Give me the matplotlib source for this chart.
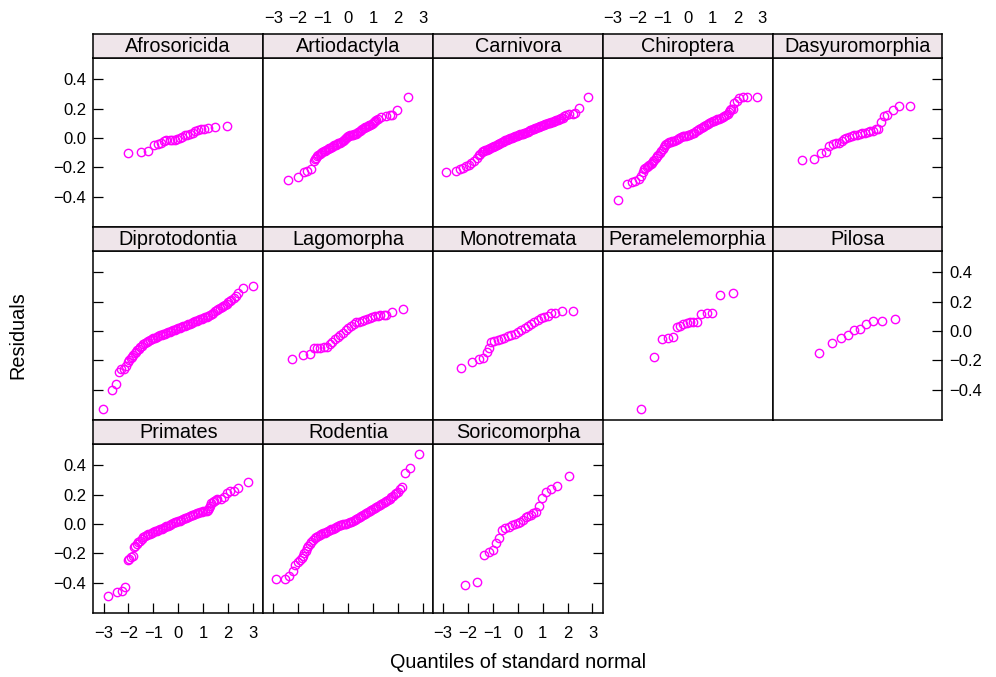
import matplotlib.pyplot as plt

plt.rcParams['font.family'] = ['Liberation Sans', 'DejaVu Sans']

# theoretical normal quantiles (x) and sorted residuals (y), one pair per order
afro_x = [-2.01, -1.51, -1.20, -0.98, -0.83, -0.71, -0.58, -0.47, -0.33, -0.23, -0.12, -0.03,
          0.07, 0.17, 0.27, 0.36, 0.47, 0.58, 0.68, 0.79, 0.90, 1.02, 1.19, 1.49, 1.98]
afro_y = [-0.100, -0.098, -0.086, -0.045, -0.041, -0.032, -0.018, -0.014, -0.014, -0.014, -0.011, -0.007,
          0.000, 0.009, 0.018, 0.023, 0.025, 0.032, 0.045, 0.055, 0.059, 0.064, 0.066, 0.073, 0.080]

artio_x = [-2.42, -1.99, -1.78, -1.65, -1.50, -1.38, -1.34, -1.29, -1.24, -1.19, -1.14, -1.09, -1.04,
           -0.98, -0.92, -0.87, -0.82, -0.76, -0.71, -0.65, -0.60, -0.55, -0.50, -0.44, -0.39, -0.33,
           -0.28, -0.22, -0.17, -0.12, -0.07, -0.03, 0.01, 0.05, 0.09, 0.15, 0.20, 0.25, 0.31, 0.36,
           0.41, 0.47, 0.52, 0.57, 0.63, 0.68, 0.74, 0.79, 0.84, 0.90, 0.95, 1.00, 1.06, 1.10, 1.14,
           1.20, 1.34, 1.51, 1.67, 1.78, 1.97, 2.41]
artio_y = [-0.284, -0.266, -0.232, -0.223, -0.209, -0.159, -0.145, -0.135, -0.125, -0.117, -0.109, -0.103,
           -0.098, -0.092, -0.086, -0.080, -0.075, -0.070, -0.066, -0.060, -0.055, -0.050, -0.045, -0.040,
           -0.036, -0.031, -0.027, -0.021, -0.016, -0.008, 0.000, 0.006, 0.011, 0.015, 0.018, 0.020, 0.023,
           0.027, 0.030, 0.035, 0.041, 0.048, 0.055, 0.061, 0.068, 0.072, 0.077, 0.081, 0.086, 0.090,
           0.095, 0.102, 0.109, 0.114, 0.120, 0.132, 0.143, 0.150, 0.155, 0.159, 0.193, 0.280]

carn_x = [-2.88, -2.50, -2.32, -2.21, -2.08, -1.97, -1.87, -1.76, -1.65, -1.54,
          -1.5, -1.45, -1.4, -1.35, -1.3, -1.25, -1.2, -1.15, -1.1, -1.05, -1.0, -0.95, -0.9, -0.85,
          -0.8, -0.75, -0.7, -0.65, -0.6, -0.55, -0.5, -0.45, -0.4, -0.35, -0.3, -0.25, -0.2, -0.15,
          -0.1, -0.05, 0.0, 0.05, 0.1, 0.15, 0.2, 0.25, 0.3, 0.35, 0.4, 0.45, 0.5, 0.55, 0.6, 0.65,
          0.7, 0.75, 0.8, 0.85, 0.9, 0.95, 1.0, 1.05, 1.1, 1.15, 1.2, 1.25, 1.3, 1.35, 1.4, 1.45,
          1.5, 1.55, 1.6, 1.65, 1.7, 1.75, 1.8,
          1.87, 1.94, 2.07, 2.21, 2.28, 2.45, 2.82]
carn_y = [-0.234, -0.225, -0.209, -0.202, -0.193, -0.182, -0.168, -0.155, -0.136, -0.114,
          -0.107, -0.099, -0.092, -0.088, -0.084, -0.080, -0.077, -0.073, -0.069, -0.065, -0.061, -0.056,
          -0.052, -0.047, -0.043, -0.038, -0.034, -0.029, -0.025, -0.021, -0.017, -0.013, -0.009, -0.005,
          -0.002, 0.002, 0.005, 0.008, 0.011, 0.015, 0.018, 0.021, 0.024, 0.027, 0.030, 0.033, 0.036,
          0.040, 0.043, 0.047, 0.051, 0.055, 0.059, 0.063, 0.067, 0.071, 0.075, 0.077, 0.080, 0.083,
          0.086, 0.090, 0.093, 0.097, 0.100, 0.102, 0.105, 0.108, 0.111, 0.115, 0.118, 0.122, 0.125,
          0.127, 0.130, 0.133, 0.136,
          0.150, 0.159, 0.164, 0.164, 0.173, 0.207, 0.277]

chiro_x = [-2.81, -2.44, -2.25, -2.10, -1.97, -1.87, -1.81, -1.74, -1.70, -1.65, -1.60, -1.54, -1.49,
           -1.43, -1.38, -1.33, -1.28, -1.22, -1.17, -1.11, -1.06, -1.00, -0.95, -0.90, -0.85, -0.79,
           -0.73, -0.67, -0.61, -0.54, -0.47, -0.40, -0.34, -0.27, -0.20, -0.13, -0.07, 0.00, 0.07,
           0.13, 0.20, 0.27, 0.34, 0.40, 0.47, 0.54, 0.61, 0.67, 0.74, 0.80, 0.87, 0.94, 1.01, 1.07,
           1.14, 1.20, 1.27, 1.34, 1.41, 1.47, 1.54, 1.61, 1.66, 1.71, 1.76, 1.81, 1.87,
           1.97, 2.07, 2.21, 2.37, 2.77]
chiro_y = [-0.423, -0.314, -0.300, -0.291, -0.282, -0.259, -0.232, -0.214, -0.206, -0.198, -0.190, -0.182,
           -0.175, -0.168, -0.160, -0.152, -0.139, -0.125, -0.113, -0.100, -0.086, -0.073, -0.061, -0.050,
           -0.042, -0.034, -0.030, -0.027, -0.022, -0.018, -0.011, -0.005, 0.001, 0.007, 0.011, 0.014,
           0.016, 0.018, 0.022, 0.027, 0.031, 0.036, 0.045, 0.055, 0.061, 0.068, 0.075, 0.082, 0.090,
           0.098, 0.103, 0.109, 0.113, 0.118, 0.122, 0.127, 0.131, 0.136, 0.143, 0.150, 0.158, 0.166,
           0.177, 0.189, 0.195, 0.200, 0.239,
           0.250, 0.273, 0.277, 0.277, 0.280]

dasy_x = [-2.21, -1.73, -1.47, -1.27, -1.14, -1.00, -0.87, -0.74, -0.63, -0.54, -0.44, -0.33,
          -0.23, -0.12, -0.01, 0.09, 0.20, 0.31, 0.41, 0.52, 0.63, 0.74, 0.84, 0.95, 1.07,
          1.20, 1.41, 1.67, 2.13]
dasy_y = [-0.148, -0.141, -0.100, -0.095, -0.055, -0.039, -0.036, -0.032, -0.018, -0.005, 0.002, 0.009,
          0.014, 0.018, 0.023, 0.027, 0.032, 0.036, 0.041, 0.045, 0.050, 0.059, 0.059, 0.109, 0.148,
          0.159, 0.193, 0.216, 0.220]

dipro_x = [-3.01, -2.65, -2.48, -2.37, -2.28, -2.18, -2.10, -2.01, -1.96, -1.91, -1.86, -1.81, -1.75,
           -1.70, -1.65, -1.59, -1.53, -1.47, -1.40, -1.34, -1.27, -1.20, -1.14, -1.07, -1.00, -0.94,
           -0.87, -0.80, -0.74, -0.67, -0.61, -0.54, -0.47, -0.40, -0.34, -0.27, -0.20, -0.13, -0.07,
           0.00, 0.07, 0.13, 0.20, 0.27, 0.34, 0.40, 0.47, 0.54, 0.61, 0.67, 0.74, 0.80, 0.87, 0.94,
           1.01, 1.07, 1.14, 1.20, 1.27, 1.34, 1.41, 1.47, 1.54, 1.61, 1.67, 1.74, 1.81, 1.87, 1.94,
           2.01, 2.07, 2.14, 2.24, 2.32, 2.41, 2.61, 2.99]
dipro_y = [-0.534, -0.402, -0.359, -0.277, -0.261, -0.259, -0.236, -0.209, -0.197, -0.186, -0.175, -0.164,
           -0.152, -0.141, -0.130, -0.120, -0.110, -0.100, -0.091, -0.082, -0.074, -0.066, -0.060, -0.055,
           -0.050, -0.045, -0.040, -0.036, -0.031, -0.027, -0.022, -0.018, -0.013, -0.009, -0.005, 0.000,
           0.005, 0.009, 0.014, 0.018, 0.023, 0.027, 0.032, 0.036, 0.041, 0.045, 0.050, 0.055, 0.061,
           0.066, 0.071, 0.075, 0.080, 0.084, 0.089, 0.093, 0.098, 0.102, 0.108, 0.114, 0.124, 0.134,
           0.142, 0.150, 0.157, 0.164, 0.170, 0.177, 0.186,
           0.195, 0.203, 0.211, 0.227, 0.241, 0.257, 0.295, 0.305]

lago_x = [-2.26, -1.81, -1.54, -1.38, -1.24, -1.11, -0.98, -0.84, -0.74, -0.63, -0.52, -0.41,
          -0.31, -0.20, -0.09, 0.01, 0.12, 0.23, 0.33, 0.44, 0.55, 0.66, 0.76, 0.87, 0.98,
          1.08, 1.19, 1.30, 1.43, 1.54, 1.78, 2.21]
lago_y = [-0.193, -0.164, -0.157, -0.118, -0.114, -0.114, -0.109, -0.107, -0.086, -0.073, -0.057, -0.039,
          -0.027, -0.011, 0.005, 0.023, 0.036, 0.048, 0.059, 0.064, 0.068, 0.073, 0.082, 0.086, 0.093,
          0.100, 0.105, 0.109, 0.111, 0.109, 0.127, 0.150]

mono_x = [-2.28, -1.83, -1.57, -1.38, -1.24, -1.14, -1.06, -0.94, -0.80, -0.67, -0.54, -0.40,
          -0.27, -0.13, 0.00, 0.13, 0.27, 0.40, 0.54, 0.67, 0.80, 0.94, 1.07, 1.20, 1.34,
          1.51, 1.78, 2.21]
mono_y = [-0.255, -0.209, -0.191, -0.186, -0.141, -0.118, -0.077, -0.068, -0.061, -0.055, -0.045, -0.036,
          -0.027, -0.018, -0.005, 0.009, 0.023, 0.036, 0.050, 0.064, 0.075, 0.086, 0.098, 0.105, 0.123,
          0.120, 0.136, 0.136]

peram_x = [-1.89, -1.34, -1.04, -0.78, -0.58, -0.44, -0.31, -0.17, -0.04, 0.09, 0.23, 0.36,
           0.55, 0.76, 1.00, 1.30, 1.83]
peram_y = [-0.530, -0.177, -0.057, -0.045, -0.041, 0.025, 0.034, 0.045, 0.057, 0.064, 0.064, 0.064,
           0.118, 0.123, 0.123, 0.248, 0.261]

pilosa_x = [-1.55, -1.02, -0.67, -0.39, -0.13, 0.12, 0.36, 0.64, 0.99, 1.53]
pilosa_y = [-0.152, -0.084, -0.045, -0.027, 0.005, 0.014, 0.045, 0.070, 0.070, 0.080]

prim_x = [-2.81, -2.44, -2.25, -2.12, -2.01, -1.96, -1.91, -1.83, -1.78, -1.72, -1.67, -1.60, -1.54,
          -1.47, -1.41, -1.34, -1.27, -1.20, -1.14, -1.07, -1.00, -0.94, -0.87, -0.80, -0.74, -0.67,
          -0.60, -0.54, -0.47, -0.40, -0.33, -0.27, -0.20, -0.13, -0.07, 0.00, 0.07, 0.13, 0.20,
          0.27, 0.33, 0.40, 0.47, 0.54, 0.60, 0.67, 0.74, 0.80, 0.87, 0.94, 1.00, 1.07, 1.14, 1.19,
          1.24, 1.29, 1.33, 1.38, 1.43, 1.50, 1.57, 1.70, 1.83, 1.97, 2.07, 2.24, 2.42, 2.81]
prim_y = [-0.489, -0.461, -0.455, -0.427, -0.245, -0.236, -0.227, -0.218, -0.159, -0.147, -0.136, -0.125,
          -0.114, -0.102, -0.091, -0.083, -0.075, -0.070, -0.066, -0.061, -0.057, -0.051, -0.045, -0.040,
          -0.036, -0.031, -0.027, -0.021, -0.016, -0.011, -0.007, -0.001, 0.005, 0.010, 0.014, 0.019,
          0.023, 0.028, 0.034, 0.038, 0.043, 0.049, 0.055, 0.060, 0.064, 0.070, 0.075, 0.078, 0.082,
          0.084, 0.086, 0.088, 0.091, 0.098, 0.107, 0.125, 0.141, 0.150, 0.159, 0.163, 0.168, 0.170,
          0.186, 0.214, 0.223, 0.223, 0.245, 0.284]

rod_x = [-2.90, -2.54, -2.37, -2.21, -2.12, -2.01, -1.91, -1.86, -1.81, -1.75, -1.70, -1.65, -1.59,
         -1.53, -1.47, -1.40, -1.34, -1.27, -1.20, -1.14, -1.07, -1.00, -0.94, -0.87, -0.80, -0.74,
         -0.67, -0.61, -0.54, -0.47, -0.40, -0.34, -0.27, -0.20, -0.13, -0.07, 0.00, 0.07, 0.13,
         0.20, 0.27, 0.34, 0.40, 0.47, 0.54, 0.61, 0.67, 0.74, 0.80, 0.87, 0.94, 1.01, 1.07, 1.14,
         1.20, 1.27, 1.34, 1.41, 1.47, 1.54, 1.61, 1.67, 1.74, 1.81, 1.87, 1.94, 2.01, 2.10, 2.18,
         2.30, 2.49, 2.86]
rod_y = [-0.377, -0.377, -0.355, -0.320, -0.280, -0.259, -0.245, -0.232, -0.218, -0.201, -0.184, -0.167,
         -0.150, -0.135, -0.120, -0.109, -0.098, -0.090, -0.082, -0.076, -0.070, -0.064, -0.059, -0.053,
         -0.048, -0.042, -0.036, -0.031, -0.025, -0.020, -0.014, -0.010, -0.007, -0.003, 0.000, 0.003,
         0.007, 0.011, 0.016, 0.021, 0.027, 0.034, 0.041, 0.048, 0.055, 0.061, 0.068, 0.075, 0.082,
         0.088, 0.095, 0.103, 0.111, 0.118, 0.125, 0.132, 0.139, 0.145, 0.152, 0.158, 0.164, 0.173,
         0.182, 0.192, 0.202, 0.211, 0.220, 0.235, 0.250,
         0.345, 0.382, 0.475]

sori_x = [-2.12, -1.63, -1.37, -1.14, -0.98, -0.87, -0.76, -0.63, -0.50, -0.36, -0.23, -0.12,
          -0.01, 0.09, 0.20, 0.31, 0.41, 0.52, 0.63, 0.74, 0.84, 0.98, 1.14, 1.34, 1.59, 2.07]
sori_y = [-0.414, -0.398, -0.209, -0.191, -0.177, -0.127, -0.095, -0.041, -0.027, -0.018, -0.009, -0.002,
          0.005, 0.014, 0.027, 0.045, 0.055, 0.064, 0.073, 0.082, 0.123, 0.175, 0.220, 0.241, 0.259, 0.330]

orders = ["Afrosoricida", "Artiodactyla", "Carnivora", "Chiroptera", "Dasyuromorphia",
          "Diprotodontia", "Lagomorpha", "Monotremata", "Peramelemorphia", "Pilosa",
          "Primates", "Rodentia", "Soricomorpha"]
xs_all = [afro_x, artio_x, carn_x, chiro_x, dasy_x, dipro_x, lago_x, mono_x,
          peram_x, pilosa_x, prim_x, rod_x, sori_x]
ys_all = [afro_y, artio_y, carn_y, chiro_y, dasy_y, dipro_y, lago_y, mono_y,
          peram_y, pilosa_y, prim_y, rod_y, sori_y]

x_ticks = [-3, -2, -1, 0, 1, 2, 3]
y_ticks = [-0.4, -0.2, 0.0, 0.2, 0.4]
x_labels = [str(v).replace('-', '\u2212') for v in x_ticks]
y_labels = [f"{v:.1f}".replace('-', '\u2212') for v in y_ticks]

W, H = 996, 677
fig = plt.figure(figsize=(W / 100, H / 100), dpi=100)


def box(x0, y0, w, h):
    # pixel box (top-left origin) -> figure fraction
    return [x0 / W, 1 - (y0 + h) / H, w / W, h / H]


left0, pw = 93.3, 169.8
top0, sh, ph = 34, 24, 169
row_step = sh + ph
ncol = 5
tick_fs = 12
strip_col = '#efe5ea'
pt_col = '#ff00ff'

for i, name in enumerate(orders):
    r, c = divmod(i, ncol)
    x0 = left0 + c * pw
    s_top = top0 + r * row_step
    last_in_row = c == ncol - 1 or i == len(orders) - 1
    bottom_row = r == 2

    ax = fig.add_axes(box(x0, s_top + sh, pw, ph))
    ax.plot(xs_all[i], ys_all[i], 'o', mfc='none', mec=pt_col, ms=6.0, mew=1.0)
    ax.set_xlim(-3.41, 3.41)
    ax.set_ylim(-0.607, 0.545)
    ax.set_xticks(x_ticks)
    ax.set_xticklabels(x_labels)
    ax.set_yticks(y_ticks)
    ax.set_yticklabels(y_labels)
    ax.tick_params(direction='in', length=7, width=0.9, labelsize=tick_fs,
                   left=c == 0, right=last_in_row, top=False, bottom=bottom_row,
                   labelleft=c == 0 and r != 1, labelright=last_in_row and r == 1,
                   labelbottom=bottom_row and c in (0, 2), labeltop=False)
    ax.tick_params(axis='y', pad=5)
    ax.tick_params(axis='x', pad=9)
    for sp in ax.spines.values():
        sp.set_linewidth(1.1)

    # strip with the order name
    sax = fig.add_axes(box(x0, s_top, pw, sh))
    sax.set_facecolor(strip_col)
    sax.set_xlim(-3.41, 3.41)
    sax.set_ylim(0, 1)
    sax.set_yticks([])
    if r == 0 and c in (1, 3):
        sax.set_xticks(x_ticks)
        sax.set_xticklabels(x_labels)
        sax.tick_params(axis='x', top=False, bottom=False, labeltop=True,
                        labelbottom=False, labelsize=tick_fs, length=0, pad=6)
    else:
        sax.set_xticks([])
    for sp in sax.spines.values():
        sp.set_linewidth(1.1)
    sax.text(0, 0.47, name, ha='center', va='center', fontsize=14.3)

fig.text(18 / W, 1 - 335 / H, 'Residuals', rotation=90, ha='center', va='center', fontsize=14.3)
fig.text(518 / W, 1 - 663 / H, 'Quantiles of standard normal', ha='center', va='center', fontsize=14.3)

fig.savefig('out.png', dpi=100)
